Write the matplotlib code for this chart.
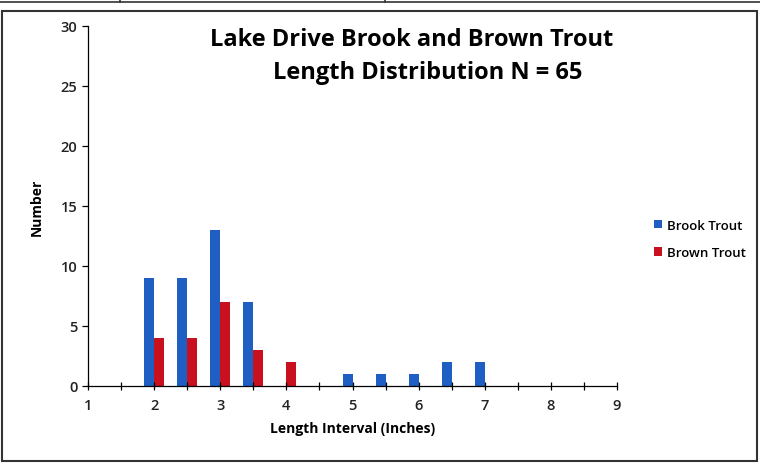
import matplotlib
matplotlib.use("Agg")
import matplotlib.pyplot as plt
from matplotlib.patches import Rectangle
from matplotlib.lines import Line2D
import numpy as np

intervals = [2, 2.5, 3, 3.5, 4, 5, 5.5, 6, 6.5, 7]
brook = [9, 9, 13, 7, 0, 1, 1, 1, 2, 2]
brown = [4, 4, 7, 3, 2, 0, 0, 0, 0, 0]
xticks = [1, 2, 3, 4, 5, 6, 7, 8, 9]
yticks = [0, 5, 10, 15, 20, 25, 30]

plt.rcParams['font.family'] = ['Open Sans', 'DejaVu Sans']

fig = plt.figure(figsize=(7.6, 4.64), dpi=100)
ax = fig.add_axes([88/760, 1-387/464, (617-88)/760, (387-27)/464])

w = 0.15
x = np.array(intervals)
ax.bar(x - w/2, brook, width=w, color='#1f5fc4', label='Brook Trout')
ax.bar(x + w/2, brown, width=w, color='#c8101e', label='Brown Trout')

ax.set_xlim(1, 9)
ax.set_ylim(0, 30)
ax.set_xticks(xticks)
ax.set_xticks(np.arange(1, 9.01, 0.5), minor=True)
ax.set_yticks(yticks)
for s in ['top', 'right']:
    ax.spines[s].set_visible(False)
ax.spines['left'].set_linewidth(0.9)
ax.spines['bottom'].set_linewidth(0.9)
ax.tick_params(axis='x', which='both', direction='inout', length=6, width=0.9, labelsize=10.5, pad=6)
ax.tick_params(axis='y', direction='out', length=4, width=0.9, labelsize=10.5)
for lab in ax.get_xticklabels() + ax.get_yticklabels():
    lab.set_fontweight('semibold')
    lab.set_color('#222222')

ax.set_xlabel('Length Interval (Inches)', fontsize=10, fontweight='bold', labelpad=6)
ax.set_ylabel('Number', fontsize=10, fontweight='bold', labelpad=12)

fig.text(412/760, 1-40/464, 'Lake Drive Brook and Brown Trout', ha='center', va='center',
         fontsize=17, fontweight='bold')
fig.text(428/760, 1-73/464, 'Length Distribution N = 65', ha='center', va='center',
         fontsize=17, fontweight='bold')

leg = fig.legend(loc='upper left', bbox_to_anchor=(647/760, 1-213/464), frameon=False,
                 fontsize=9.5, handlelength=0.6, handleheight=0.6, handletextpad=0.4,
                 labelspacing=1.1, borderpad=0)
for t in leg.get_texts():
    t.set_fontweight('semibold')

# outer frame
fig.patches.append(Rectangle((2/760, 2/464), 755/760, 1-14/464, transform=fig.transFigure,
                             fill=False, edgecolor='#333333', linewidth=1.5))
fig.lines.append(Line2D([0, 1], [1-3/464, 1-3/464], transform=fig.transFigure, color='#333333', lw=1.2))
for xp in [120, 385]:
    fig.lines.append(Line2D([xp/760, xp/760], [1-3/464, 1], transform=fig.transFigure, color='#333333', lw=1.2))

fig.savefig('out.png', dpi=100)
